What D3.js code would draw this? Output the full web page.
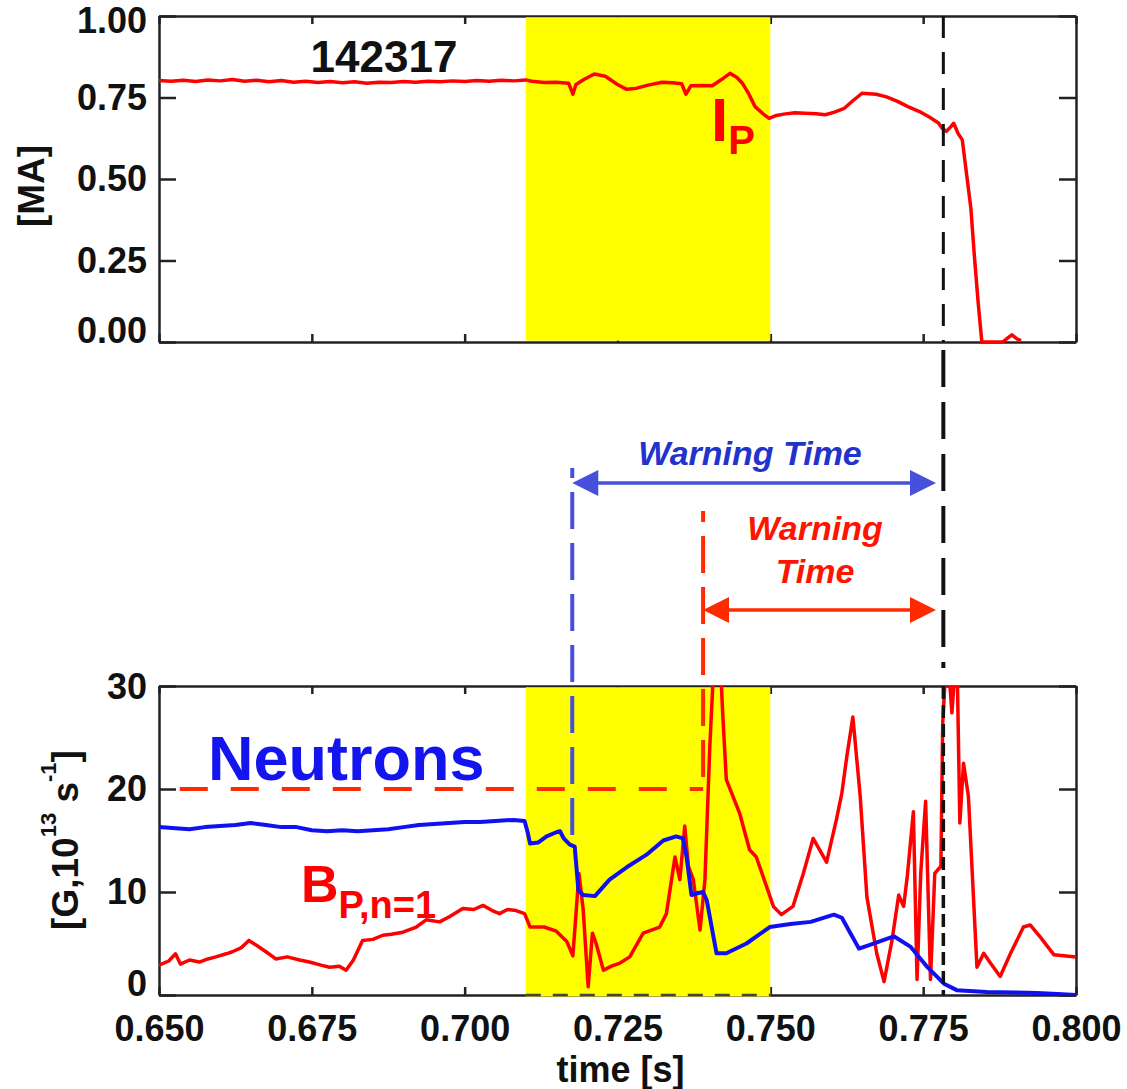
<!DOCTYPE html>
<html lang="en">
<head>
<meta charset="UTF-8" />
<title>142317 warning time</title>
<style>
  html, body { margin: 0; background: #fff; }
  svg { display: block; font-family: 'Liberation Sans', Arial, Helvetica, sans-serif; }
  .axis .tick text { font-size: 36px; font-weight: bold; fill: #111; font-family: 'Liberation Sans', Arial, sans-serif; }
  .axis path, .axis line { stroke: #222; stroke-width: 2.5; }
  .lbl { font-weight: bold; }
</style>
</head>
<body>
<div id="chart"></div>
<script src="https://cdn.jsdelivr.net/npm/d3@7/dist/d3.min.js"></script>
<script>
// ---- data (shot 142317) ----
const xTicks = [0.650, 0.675, 0.700, 0.725, 0.750, 0.775, 0.800];
const ipTicks = [0, 0.25, 0.5, 0.75, 1.0];
const bTicks = [0, 10, 20, 30];

const ipT = [0.650,0.652,0.654,0.656,0.658,0.660,0.662,0.664,0.666,0.668,0.670,0.672,0.674,0.676,0.678,0.680,0.682,0.684,0.686,0.688,0.690,0.692,0.694,0.696,0.698,0.700,0.702,0.704,0.706,0.708,0.710,
  0.7110,0.7130,0.7150,0.7170,0.7177,0.7182,0.7195,0.7212,0.7230,0.7250,0.7265,0.7280,0.7300,0.7323,0.7340,0.7355,0.7362,0.7370,0.7390,0.7405,0.7420,0.7434,0.7445,0.7455,0.7465,0.7475,0.7488,0.7498,
  0.7510,0.7522,0.7540,0.7557,0.7575,0.7590,0.7605,0.7621,0.7635,0.7650,0.7673,0.7690,0.7708,0.7725,0.7744,0.7760,0.7775,0.7781,0.7788,0.7795,0.7800,0.7807,0.7814,0.7822,0.7828,0.7834,0.7840,0.7846,
  0.7860,0.7880,0.7888,0.7895,0.7903,0.7910];
const ipMA = [0.802,0.800,0.803,0.799,0.804,0.801,0.805,0.800,0.803,0.798,0.802,0.797,0.800,0.796,0.799,0.795,0.798,0.794,0.797,0.796,0.799,0.797,0.800,0.798,0.801,0.799,0.802,0.800,0.803,0.801,0.804,
  0.800,0.796,0.797,0.794,0.760,0.790,0.805,0.822,0.815,0.790,0.775,0.778,0.788,0.797,0.795,0.792,0.760,0.786,0.787,0.786,0.805,0.824,0.812,0.792,0.760,0.722,0.700,0.686,
  0.695,0.699,0.703,0.702,0.700,0.697,0.705,0.717,0.740,0.763,0.760,0.752,0.738,0.722,0.707,0.690,0.672,0.656,0.646,0.660,0.671,0.640,0.620,0.500,0.411,0.258,0.120,0.000,
  0.000,0.000,0.012,0.022,0.010,0.004];

const nT = [0.650,0.6527,0.655,0.6575,0.660,0.6625,0.665,0.6675,0.670,0.6725,0.675,0.6775,0.680,0.6825,0.685,0.6875,0.690,0.6925,0.695,0.6975,0.700,0.7025,0.705,0.708,0.7098,
  0.7103,0.7107,0.7120,0.7134,0.7150,0.7156,0.7162,0.7172,0.7180,0.7186,0.7194,0.7213,0.7237,0.7265,0.7297,0.7325,0.7346,0.7357,0.7363,0.7371,0.7382,0.7390,0.7396,
  0.7412,0.7428,0.7461,0.7499,0.7533,0.7566,0.7604,0.7617,0.7631,0.7645,0.7664,0.7702,0.7729,0.7757,0.7784,0.7805,0.7854,0.7900,0.7936,0.7970,0.8000];
const nV = [16.3,16.2,16.1,16.3,16.4,16.5,16.7,16.5,16.3,16.3,16.0,15.9,16.0,15.9,16.0,16.1,16.3,16.5,16.6,16.7,16.8,16.8,16.9,17.0,16.9,
  15.8,14.7,14.8,15.4,15.8,15.9,15.2,14.6,14.4,10.2,9.7,9.6,11.2,12.4,13.6,15.0,15.4,15.2,13.4,9.7,9.9,10.0,9.2,
  4.05,4.05,5.0,6.6,6.9,7.1,7.8,7.5,6.0,4.5,4.9,5.7,4.7,2.7,1.1,0.47,0.3,0.25,0.2,0.1,0.0];

const bT = [0.650,0.6516,0.6527,0.6535,0.6550,0.6566,0.6580,0.6593,0.6610,0.6620,0.6635,0.6647,0.6660,0.6675,0.6691,0.6710,0.6730,0.6746,0.6765,0.6779,0.6795,0.6806,0.6818,0.6833,
  0.6850,0.6866,0.6880,0.6899,0.6921,0.6937,0.6959,0.6975,0.6997,0.7015,0.7030,0.7045,0.7057,0.7070,0.7084,0.7098,0.7107,0.7130,0.7150,0.7167,0.7177,0.7187,0.7194,0.7202,
  0.7209,0.7215,0.7227,0.7240,0.7254,0.7270,0.7292,0.7319,0.7330,0.7344,0.7352,0.7360,0.7366,0.7374,0.7385,0.7393,0.7401,0.7409,0.7417,0.7422,0.7428,0.7450,0.7466,0.7477,
  0.7494,0.7505,0.7518,0.7537,0.7554,0.7570,0.7592,0.7608,0.7617,0.7625,0.7635,0.7647,0.7658,0.7674,0.7686,0.7699,0.7710,0.7718,0.7724,0.7734,0.7740,0.7746,0.7754,0.7762,
  0.7769,0.7779,0.7782,0.7789,0.7797,0.7805,0.7810,0.7816,0.7824,0.7838,0.7849,0.7860,0.7876,0.7893,0.7914,0.7925,0.7942,0.7964,0.8000];
const bV = [2.9,3.3,4.0,3.0,3.4,3.2,3.5,3.7,4.0,4.2,4.6,5.3,4.8,4.2,3.5,3.7,3.4,3.2,2.9,2.7,2.8,2.4,3.4,5.3,
  5.4,5.8,5.9,6.1,6.6,7.3,7.1,7.6,8.4,8.3,8.7,8.2,7.9,8.3,8.2,7.9,6.6,6.6,6.2,5.2,3.8,11.8,8.2,0.8,
  6.0,5.0,2.4,2.8,3.1,3.7,6.0,6.6,7.9,13.4,11.2,16.4,12.5,11.2,6.3,11.2,24.1,34,34,27.4,20.9,17.6,14.1,13.4,
  10.5,8.6,7.8,8.6,11.8,15.2,12.9,17.0,19.6,23.1,27.0,19.3,9.5,4.05,1.3,5.3,9.7,8.6,11.5,17.8,1.5,11.8,18.8,1.5,
  11.8,12.5,26.4,34,27.4,34,16.7,22.5,19.3,2.7,4.05,3.1,1.8,4.05,6.6,6.8,5.6,3.9,3.7];

// annotation times
const yellowWindow = [0.710, 0.750];
const disruptT = 0.7783;
const neutronWarnT = 0.7176;
const bpWarnT = 0.7390;
const arrowEndT = 0.7771;
const bpThreshold = 20;

// ---- layout ----
const W = 1127, H = 1089;
const left = 159, right = 1076;
const top1 = 16, bot1 = 342, top2 = 686, bot2 = 995;

const x = d3.scaleLinear().domain([0.65, 0.80]).range([left, right]);
const yIp = d3.scaleLinear().domain([0, 1]).range([bot1, top1]);
const yB = d3.scaleLinear().domain([0, 30]).range([bot2, top2]);

const svg = d3.select("#chart").append("svg")
  .attr("width", W).attr("height", H);

svg.append("defs").append("clipPath").attr("id", "clipB")
  .append("rect").attr("x", left).attr("y", top2).attr("width", right - left).attr("height", bot2 - top2);

// ---- axes (inward ticks) ----
function panelAxes(y, yTickVals, yFmt, top, bot, xLabels, topDy) {
  const gl = svg.append("g").attr("class", "axis").attr("transform", `translate(${left},0)`)
    .call(d3.axisLeft(y).tickValues(yTickVals).tickFormat(yFmt).tickSize(-17).tickSizeOuter(0).tickPadding(12));
  // IDL keeps the end labels inside the frame
  gl.selectAll(".tick text").attr("dy", (d, i) => i === 0 ? "0.0em" : (i === yTickVals.length - 1 ? topDy : "0.32em"));
  svg.append("g").attr("class", "axis").attr("transform", `translate(${right},0)`)
    .call(d3.axisRight(y).tickValues(yTickVals).tickFormat("").tickSize(-17).tickSizeOuter(0));
  svg.append("g").attr("class", "axis").attr("transform", `translate(0,${top})`)
    .call(d3.axisTop(x).tickValues(xTicks).tickFormat("").tickSize(-8).tickSizeOuter(0));
  svg.append("g").attr("class", "axis").attr("transform", `translate(0,${bot})`)
    .call(d3.axisBottom(x).tickValues(xTicks).tickFormat(xLabels ? d3.format(".3f") : "").tickSize(-8).tickSizeOuter(0).tickPadding(20));
}
panelAxes(yIp, ipTicks, d3.format(".2f"), top1, bot1, false, "0.46em");
panelAxes(yB, bTicks, d3.format("d"), top2, bot2, true, "0.36em");

// yellow window
svg.append("rect")
  .attr("x", x(yellowWindow[0])).attr("width", x(yellowWindow[1]) - x(yellowWindow[0]))
  .attr("y", top1 + 1.3).attr("height", bot1 - top1 - 2.6).attr("fill", "#ffff00");
svg.append("rect")
  .attr("x", x(yellowWindow[0])).attr("width", x(yellowWindow[1]) - x(yellowWindow[0]))
  .attr("y", top2 + 1.3).attr("height", bot2 - top2 + 0.2).attr("fill", "#ffff00");
svg.append("line")
  .attr("x1", x(yellowWindow[0])).attr("x2", x(yellowWindow[1]))
  .attr("y1", bot2).attr("y2", bot2)
  .attr("stroke", "#444").attr("stroke-width", 2.5).attr("stroke-dasharray", "15,12");

// ---- traces ----
const lineIp = d3.line().x(d => x(d[0])).y(d => yIp(d[1]));
const lineB = d3.line().x(d => x(d[0])).y(d => yB(d[1]));

svg.append("path").datum(d3.zip(ipT, ipMA))
  .attr("d", lineIp).attr("fill", "none").attr("stroke", "#ff0000")
  .attr("stroke-width", 3.5).attr("stroke-linejoin", "round");

const gB = svg.append("g").attr("clip-path", "url(#clipB)");

// threshold & warning markers (drawn under the traces)
gB.append("line")
  .attr("x1", x(0.6534)).attr("x2", x(bpWarnT))
  .attr("y1", yB(bpThreshold)).attr("y2", yB(bpThreshold))
  .attr("stroke", "#ff2a00").attr("stroke-width", 4).attr("stroke-dasharray", "28,23");

gB.append("path").datum(d3.zip(bT, bV))
  .attr("d", lineB).attr("fill", "none").attr("stroke", "#ff0000")
  .attr("stroke-width", 3.5).attr("stroke-linejoin", "round");
gB.append("path").datum(d3.zip(nT, nV))
  .attr("d", lineB).attr("fill", "none").attr("stroke", "#1010f0")
  .attr("stroke-width", 4).attr("stroke-linejoin", "round");

// ---- vertical dashed markers ----
const arrowBlueY = 483, arrowRedY = 610;
const blueC = "#4650dc", redC = "#ff2a00";

svg.append("line")
  .attr("x1", x(neutronWarnT)).attr("x2", x(neutronWarnT))
  .attr("y1", 468).attr("y2", yB(15.5))
  .attr("stroke", blueC).attr("stroke-width", 4)
  .attr("stroke-dasharray", "37,14").attr("stroke-dashoffset", 27);
svg.append("line")
  .attr("x1", x(bpWarnT)).attr("x2", x(bpWarnT))
  .attr("y1", 511).attr("y2", yB(bpThreshold))
  .attr("stroke", redC).attr("stroke-width", 4)
  .attr("stroke-dasharray", "37,14").attr("stroke-dashoffset", 26);

// disruption time, black
svg.append("line")
  .attr("x1", x(disruptT)).attr("x2", x(disruptT)).attr("y1", top1).attr("y2", bot1)
  .attr("stroke", "#111").attr("stroke-width", 3).attr("stroke-dasharray", "22,14");
svg.append("line")
  .attr("x1", x(disruptT)).attr("x2", x(disruptT)).attr("y1", 350).attr("y2", 668)
  .attr("stroke", "#111").attr("stroke-width", 4).attr("stroke-dasharray", "37,15");
svg.append("line")
  .attr("x1", x(disruptT)).attr("x2", x(disruptT)).attr("y1", top2).attr("y2", bot2)
  .attr("stroke", "#111").attr("stroke-width", 3.5).attr("stroke-dasharray", "13,6");

// ---- double arrows ----
function dblArrow(t0, t1, y, color) {
  const a = x(t0), b = x(t1), L = 26, h = 13;
  svg.append("line").attr("x1", a + 10).attr("x2", b - 10).attr("y1", y).attr("y2", y)
    .attr("stroke", color).attr("stroke-width", 3.5);
  svg.append("path").attr("d", `M${a},${y}L${a + L},${y - h}L${a + L},${y + h}Z`).attr("fill", color);
  svg.append("path").attr("d", `M${b},${y}L${b - L},${y - h}L${b - L},${y + h}Z`).attr("fill", color);
}
dblArrow(neutronWarnT, arrowEndT, arrowBlueY, blueC);
dblArrow(bpWarnT, arrowEndT, arrowRedY, redC);

// ---- text ----
svg.append("text").attr("class", "lbl")
  .attr("x", 750).attr("y", 465).attr("text-anchor", "middle")
  .attr("font-size", 34).attr("font-style", "italic").attr("fill", "#2232cc")
  .text("Warning Time");
svg.append("text").attr("class", "lbl")
  .attr("x", 815).attr("y", 540).attr("text-anchor", "middle")
  .attr("font-size", 34).attr("font-style", "italic").attr("fill", "#ff1400")
  .text("Warning");
svg.append("text").attr("class", "lbl")
  .attr("x", 815).attr("y", 583).attr("text-anchor", "middle")
  .attr("font-size", 34).attr("font-style", "italic").attr("fill", "#ff1400")
  .text("Time");

svg.append("text").attr("class", "lbl")
  .attr("x", 384).attr("y", 72).attr("text-anchor", "middle")
  .attr("font-size", 44).attr("fill", "#111").text("142317");

const ip = svg.append("text").attr("class", "lbl").attr("fill", "#ff0000")
  .attr("x", 711).attr("y", 141).attr("font-size", 62);
ip.append("tspan").text("I");
ip.append("tspan").attr("font-size", 40).attr("dy", 13).text("P");

svg.append("text").attr("class", "lbl")
  .attr("x", 208).attr("y", 780).attr("font-size", 63).attr("fill", "#1414ee")
  .text("Neutrons");

const bp = svg.append("text").attr("class", "lbl").attr("fill", "#ff0000")
  .attr("x", 301).attr("y", 902).attr("font-size", 52);
bp.append("tspan").text("B");
bp.append("tspan").attr("font-size", 38).attr("dy", 16).text("P,n=1");

// axis titles
svg.append("text").attr("class", "lbl")
  .attr("transform", "translate(44,186) rotate(-90)")
  .attr("text-anchor", "middle").attr("font-size", 37).attr("fill", "#111")
  .text("[MA]");

const yl = svg.append("text").attr("class", "lbl")
  .attr("transform", "translate(78,840) rotate(-90)")
  .attr("text-anchor", "middle").attr("font-size", 37).attr("fill", "#111");
yl.append("tspan").text("[G,10");
yl.append("tspan").attr("font-size", 22).attr("dy", -22).text("13");
yl.append("tspan").attr("dy", 22).text(" s");
yl.append("tspan").attr("font-size", 22).attr("dy", -22).text("-1");
yl.append("tspan").attr("dy", 22).text("]");

svg.append("text").attr("class", "lbl")
  .attr("x", x(0.7255)).attr("y", 1082).attr("text-anchor", "middle")
  .attr("font-size", 36).attr("fill", "#111")
  .text("time [s]");
</script>
</body>
</html>
